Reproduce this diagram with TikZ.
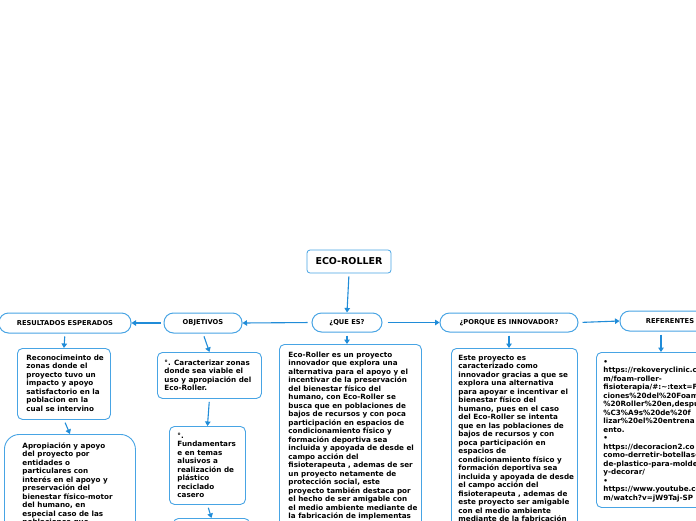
\documentclass[tikz,border=0pt]{standalone}
\usepackage{fontspec}
\setmainfont{DejaVu Sans}
\usetikzlibrary{arrows.meta}
\definecolor{bcol}{RGB}{72,164,228}
\definecolor{acol}{RGB}{32,140,216}
\newcommand\tbx[3]{\begin{minipage}[t][#2pt][t]{#1pt}\raggedright\fontsize{7.2}{8.5}\selectfont\bfseries\rule{0pt}{6pt}#3\end{minipage}}
\tikzset{
  x=1pt, y=-1pt,
  pill/.style={draw=bcol, line width=1pt, fill=white, rounded corners=9.5pt, inner sep=0pt,
    font=\fontsize{6.7}{7}\selectfont\bfseries},
  tbox/.style={draw=bcol, line width=0.9pt, fill=white, rounded corners=5pt, anchor=north west,
    inner ysep=6pt, inner xsep=8pt},
  conn/.style={draw=acol, line width=1.1pt, -{Triangle[width=5.5pt,length=4.5pt]}},
}
\begin{document}
\begin{tikzpicture}
\useasboundingbox (0,0) rectangle (696,520);
\clip (0,0) rectangle (696,520);
% main title
\node[draw=bcol, line width=0.8pt, fill=white, rounded corners=3pt, minimum width=84pt, minimum height=23pt,
  inner sep=0pt, font=\fontsize{9.5}{11}\selectfont\bfseries] (eco) at (349,261.5) {ECO-ROLLER};
% headings
\node[pill, minimum width=70pt, minimum height=19pt] (que) at (347,322.5) {¿QUE ES?};
\node[pill, minimum width=78pt, minimum height=20pt] (obj) at (203,323) {OBJETIVOS};
\node[pill, minimum width=132pt, minimum height=20pt] (res) at (65,323) {RESULTADOS ESPERADOS};
\node[pill, minimum width=138pt, minimum height=19pt] (por) at (509,322.5) {¿PORQUE ES INNOVADOR?};
\node[pill, minimum width=100pt, minimum height=20pt] (ref) at (670,321) {REFERENTES};
% text boxes
\node[tbox, inner xsep=9pt, inner ysep=7pt] (quet) at (279,344) {\tbx{124}{200}{%
\mbox{Eco-Roller es un proyecto}\\
\mbox{innovador que explora una}\\
\mbox{alternativa para el apoyo y el}\\
\mbox{incentivar de la preservación}\\
\mbox{del bienestar físico del}\\
\mbox{humano, con Eco-Roller se}\\
\mbox{busca que en poblaciones de}\\
\mbox{bajos de recursos y con poca}\\
\mbox{participación en espacios de}\\
\mbox{condicionamiento físico y}\\
\mbox{formación deportiva sea}\\
\mbox{incluida y apoyada de desde el}\\
\mbox{campo acción del}\\
\mbox{fisioterapeuta , ademas de ser}\\
\mbox{un proyecto netamente de}\\
\mbox{protección social, este}\\
\mbox{proyecto también destaca por}\\
\mbox{el hecho de ser amigable  con}\\
\mbox{el medio ambiente mediante de}\\
\mbox{la fabricación de implementas}}};
\node[tbox, inner xsep=7pt, inner ysep=6pt] (port) at (451,348) {\tbx{112}{200}{%
\mbox{Este proyecto es}\\
\mbox{caracterizado como}\\
\mbox{innovador gracias a que se}\\
\mbox{explora una alternativa}\\
\mbox{para apoyar e incentivar el}\\
\mbox{bienestar físico del}\\
\mbox{humano, pues en el caso}\\
\mbox{del Eco-Roller se intenta}\\
\mbox{que en las poblaciones de}\\
\mbox{bajos de recursos y con}\\
\mbox{poca participación en}\\
\mbox{espacios de}\\
\mbox{condicionamiento físico y}\\
\mbox{formación deportiva sea}\\
\mbox{incluida y apoyada de desde}\\
\mbox{el campo acción del}\\
\mbox{fisioterapeuta , ademas de}\\
\mbox{este proyecto ser amigable}\\
\mbox{con el medio ambiente}\\
\mbox{mediante de la fabricación}}};
\node[tbox, inner xsep=7pt, inner ysep=6pt] (refb) at (596,352) {\tbx{150}{143}{%
•\\
\mbox{https://rekoveryclinic.co}\\
\mbox{m/foam-roller-}\\
\mbox{fisioterapia/\#:\textasciitilde:text=F}\\
\mbox{ciones\%20del\%20Foam}\\
\mbox{\%20Roller\%20en,despu}\\
\mbox{\%C3\%A9s\%20de\%20f}\\
\mbox{lizar\%20el\%20entrena}\\
\mbox{ento.}\\
•\\
\mbox{https://decoracion2.co}\\
\mbox{como-derretir-botellas-}\\
\mbox{de-plastico-para-molde}\\
\mbox{y-decorar/}\\
•\\
\mbox{https://www.youtube.co}\\
\mbox{m/watch?v=jW9Taj-SP}}};
\node[tbox, inner xsep=7pt, inner ysep=7pt] (obj1) at (157,352) {\tbx{90}{32}{%
\mbox{°. Caracterizar  zonas}\\
\mbox{donde sea viable el}\\
\mbox{uso y apropiación del}\\
\mbox{Eco-Roller.}}};
\node[tbox, inner xsep=8pt, inner ysep=6pt] (obj2) at (169,426) {\tbx{60}{66}{%
°.\\
\mbox{Fundamentars}\\
\mbox{e en temas}\\
\mbox{alusivos a}\\
\mbox{realización de}\\
\mbox{plástico}\\
\mbox{reciclado}\\
\mbox{casero}}};
\node[tbox, inner xsep=8pt, inner ysep=6pt] (obj3) at (173,518) {\tbx{60}{60}{}};
\node[tbox, inner xsep=9pt, inner ysep=6pt] (res1) at (17,348) {\tbx{75}{59}{%
\mbox{Reconocimeinto de}\\
\mbox{zonas donde el}\\
\mbox{proyecto tuvo  un}\\
\mbox{impacto  y apoyo}\\
\mbox{satisfactorio en la}\\
\mbox{poblacion en la}\\
\mbox{cual se intervino}}};
\node[tbox, rounded corners=15pt, inner xsep=18pt, inner ysep=8pt] (res2) at (4,434) {\tbx{95}{140}{%
\mbox{Apropiación y apoyo}\\
\mbox{del proyecto por}\\
\mbox{entidades o}\\
\mbox{particulares con}\\
\mbox{interés en el apoyo y}\\
\mbox{preservación del}\\
\mbox{bienestar físico-motor}\\
\mbox{del humano, en}\\
\mbox{especial caso de las}\\
\mbox{poblaciones que}}};
% connectors
\draw[conn, shorten <=3pt] (eco.south) -- (que.north);
\draw[conn, shorten <=4pt] (que.west) -- (obj.east);
\draw[conn, shorten <=3pt] (obj.west) -- (res.east);
\draw[conn, shorten <=5pt] (que.east) -- (por.west);
\draw[conn, shorten <=4pt] (por.east) -- (ref.west);
\draw[conn, shorten <=3pt] (que.south) -- (que.south |- quet.north);
\draw[conn, shorten <=3pt] (obj.south) -- (obj1.north);
\draw[conn, shorten <=3pt] (obj1.south) -- (obj2.north);
\draw[conn, shorten <=3pt] (obj2.south) -- (obj3.north);
\draw[conn, shorten <=3pt] (res.south) -- (res1.north);
\draw[conn, shorten <=3pt] (res1.south) -- (res2.north);
\draw[conn, shorten <=3pt] (por.south) -- (por.south |- port.north);
\draw[conn, shorten <=3pt] ([xshift=-9pt]ref.south) -- ([xshift=-9pt]ref.south |- refb.north);
\end{tikzpicture}
\end{document}
